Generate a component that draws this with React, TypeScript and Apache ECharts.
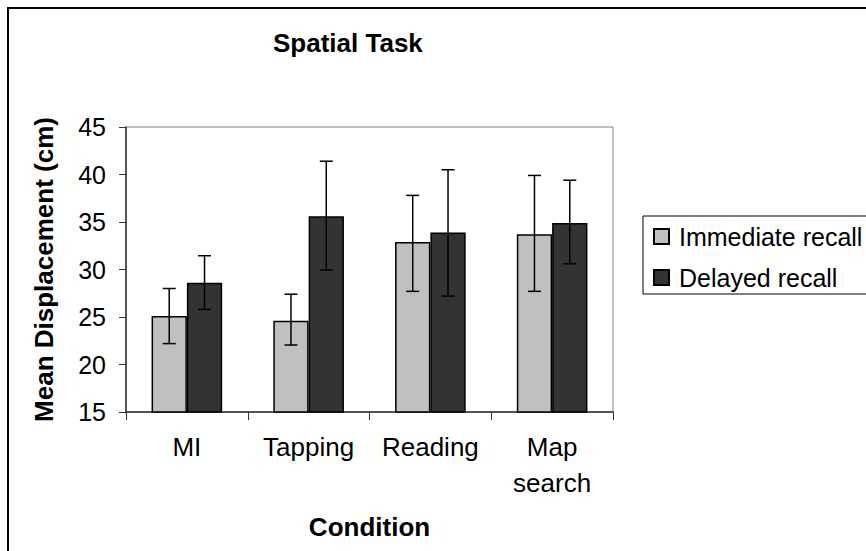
import React, { useEffect, useRef } from "react";
import * as echarts from "echarts";

const categories = ["MI", "Tapping", "Reading", "Map\nsearch"];
const immediateMean = [25.1, 24.6, 32.9, 33.7];
const immediateLow = [22.2, 22.05, 27.7, 27.7];
const immediateHigh = [28.0, 27.4, 37.8, 39.9];
const delayedMean = [28.6, 35.6, 33.9, 34.9];
const delayedLow = [25.8, 29.95, 27.2, 30.6];
const delayedHigh = [31.45, 41.4, 40.5, 39.4];

const FONT = "'Liberation Sans', Arial, sans-serif";
const CAT_GAP = 0.42;

function errSeries(name: string, lows: number[], highs: number[], side: number) {
  return {
    type: "custom",
    name,
    silent: true,
    z: 10,
    data: lows.map((l, i) => [i, l, highs[i]]),
    encode: { x: 0, y: [1, 2] },
    renderItem: (params: any, api: any) => {
      const i = api.value(0);
      const lo = api.coord([i, api.value(1)]);
      const hi = api.coord([i, api.value(2)]);
      const band = api.size([1, 0])[0];
      const bw = (band * (1 - CAT_GAP)) / 2;
      const x = lo[0] + (side * bw) / 2;
      const half = 6.5;
      const style = { stroke: "#000", lineWidth: 1.5 };
      return {
        type: "group",
        children: [
          { type: "line", shape: { x1: x, y1: hi[1], x2: x, y2: lo[1] }, style },
          { type: "line", shape: { x1: x - half, y1: hi[1], x2: x + half, y2: hi[1] }, style },
          { type: "line", shape: { x1: x - half, y1: lo[1], x2: x + half, y2: lo[1] }, style },
        ],
      };
    },
  };
}

export default function App() {
  const ref = useRef<HTMLDivElement>(null);
  useEffect(() => {
    document.body.style.margin = "0";
    const chart = echarts.init(ref.current!, null, { renderer: "svg" });
    chart.setOption({
      animation: false,
      backgroundColor: "#fff",
      textStyle: { fontFamily: FONT, color: "#000" },
      title: {
        text: "Spatial Task",
        left: 273,
        top: 30,
        padding: 0,
        textStyle: { fontFamily: FONT, fontSize: 26, fontWeight: "bold", color: "#000" },
      },
      graphic: [
        {
          type: "rect",
          shape: { x: 8, y: 8, width: 1000, height: 1000 },
          style: { fill: "none", stroke: "#000", lineWidth: 2 },
          silent: true,
        },
      ],
      legend: {
        data: ["Immediate recall", "Delayed recall"],
        orient: "vertical",
        left: 643,
        top: 216,
        padding: [8, 30, 4, 10],
        itemGap: 16,
        itemWidth: 15,
        itemHeight: 15,
        icon: "rect",
        borderColor: "#000",
        borderWidth: 1,
        textStyle: { fontFamily: FONT, fontSize: 25, color: "#000", lineHeight: 24, padding: [0, 0, 0, 5] },
      },
      grid: {
        left: 126,
        top: 127,
        right: 253,
        bottom: 139,
        show: true,
        borderColor: "#808080",
        borderWidth: 1,
        backgroundColor: "#fff",
      },
      xAxis: {
        type: "category",
        data: categories,
        name: "Condition",
        nameLocation: "middle",
        nameGap: 102,
        nameTextStyle: { fontFamily: FONT, fontSize: 26, fontWeight: "bold", color: "#000" },
        axisLine: { show: true, lineStyle: { color: "#333", width: 1.5 } },
        axisTick: { show: true, length: 8, interval: 0, lineStyle: { color: "#333" } },
        axisLabel: {
          fontFamily: FONT,
          fontSize: 26,
          color: "#000",
          margin: 17,
          lineHeight: 36,
          interval: 0,
          hideOverlap: false,
        },
        splitLine: { show: false },
      },
      yAxis: {
        type: "value",
        min: 15,
        max: 45,
        interval: 5,
        name: "Mean Displacement (cm)",
        nameLocation: "middle",
        nameGap: 69,
        nameTextStyle: { fontFamily: FONT, fontSize: 26, fontWeight: "bold", color: "#000" },
        axisLine: { show: true, lineStyle: { color: "#333", width: 1.5 } },
        axisTick: { show: true, length: 7, lineStyle: { color: "#333" } },
        axisLabel: { fontFamily: FONT, fontSize: 25, color: "#000", margin: 20 },
        splitLine: { show: false },
      },
      series: [
        {
          type: "bar",
          name: "Immediate recall",
          data: immediateMean,
          barGap: "0%",
          barCategoryGap: "42%",
          itemStyle: { color: "#c0c0c0", borderColor: "#000", borderWidth: 1.5 },
        },
        {
          type: "bar",
          name: "Delayed recall",
          data: delayedMean,
          barGap: "0%",
          barCategoryGap: "42%",
          itemStyle: { color: "#333333", borderColor: "#000", borderWidth: 1.5 },
        },
        errSeries("err-immediate", immediateLow, immediateHigh, -1),
        errSeries("err-delayed", delayedLow, delayedHigh, 1),
      ],
    });
    return () => chart.dispose();
  }, []);
  return <div ref={ref} style={{ width: 866, height: 551 }} />;
}
